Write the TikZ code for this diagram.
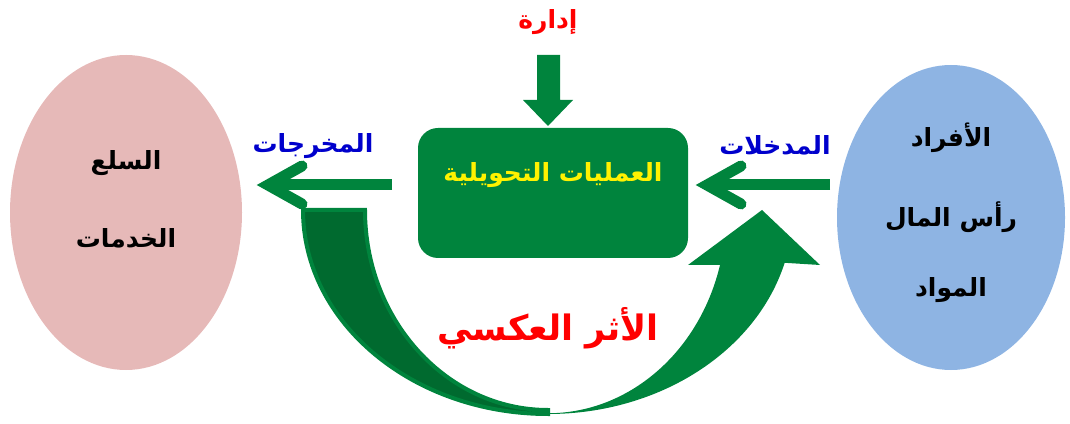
\documentclass[tikz,border=0pt]{standalone}
\usepackage{fontspec}
\newfontfamily\arabicfont[Script=Arabic]{DejaVu Sans}
\TeXXeTstate=1
\usetikzlibrary{shapes.geometric,positioning}
\definecolor{vert}{RGB}{0,132,61}
\definecolor{vertfonce}{RGB}{0,106,47}
\definecolor{rose}{RGB}{230,185,184}
\definecolor{bleuclair}{RGB}{142,180,227}
\definecolor{bleu}{RGB}{0,0,204}
\newcommand{\artxt}[1]{\beginR #1\endR}

\begin{document}
\begin{tikzpicture}[x=1pt, y=1pt,
  mot/.style={font=\arabicfont\bfseries\fontsize{25}{30}\selectfont, inner sep=0pt},
  fleche/.style={vert, line width=11pt, line cap=round, line join=miter},
  tige/.style={vert, line width=11pt}]
\useasboundingbox (0,0) rectangle (1070,423);
% --- ellipses et boite centrale ---
\node[ellipse, fill=rose, minimum width=232pt, minimum height=315pt, inner sep=0pt] (sorties) at (126,210.5) {};
\node[ellipse, fill=bleuclair, minimum width=228pt, minimum height=305pt, inner sep=0pt] (entrees) at (951,205.5) {};
\node[rounded corners=20pt, fill=vert, minimum width=270pt, minimum height=130pt] (proc) at (553,230) {};
% --- fleche en U (retroaction) ---
\fill[vert] (548,9) arc[start angle=270, end angle=345, x radius=245, y radius=204]
  -- (820,158) -- (762,213) -- (688,158) -- (720,158)
  arc[start angle=345, end angle=270, x radius=178, y radius=200] -- cycle;
\filldraw[fill=vertfonce, draw=vert, line width=4pt] (303,213) arc[start angle=180, end angle=270, x radius=245, y radius=204]
  -- (548,13) arc[start angle=270, end angle=180, x radius=183, y radius=200] -- cycle;
% --- fleches horizontales ---
\coordinate (sA) at (392,238);
\coordinate (sB) at (268,238);
\draw[tige] (sA) -- (sB);
\draw[fleche] ([shift={(34,19)}]sB) -- (sB) -- ([shift={(34,-19)}]sB);
\coordinate (eA) at (830,238);
\coordinate (eB) at (707,238);
\draw[tige] (eA) -- (eB);
\draw[fleche] ([shift={(34,19)}]eB) -- (eB) -- ([shift={(34,-19)}]eB);
% --- fleche du haut ---
\fill[vert] (537,368) -- (560,368) -- (560,323) -- (573,323) -- (548,297) -- (523,323) -- (537,323) -- cycle;
% --- textes ---
\node[mot, red] (admin) at (548,401) {\artxt{إدارة}};
\node[mot, yellow] (proctxt) at (553,248) {\artxt{العمليات التحويلية}};
\node[mot, bleu] (lblS) at (313,277) {\artxt{المخرجات}};
\node[mot, bleu] (lblE) at (775,278) {\artxt{المدخلات}};
\node[mot] (s1) at (126,260) {\artxt{السلع}};
\node[mot] (s2) at (126,185) {\artxt{الخدمات}};
\node[mot] (e1) at (951,285) {\artxt{الأفراد}};
\node[mot] (e2) at (951,206) {\artxt{رأس المال}};
\node[mot] (e3) at (951,133) {\artxt{المواد}};
\node[mot, red, font=\arabicfont\bfseries\fontsize{35}{42}\selectfont] (retro) at (548,95) {\artxt{الأثر العكسي}};
\end{tikzpicture}
\end{document}
